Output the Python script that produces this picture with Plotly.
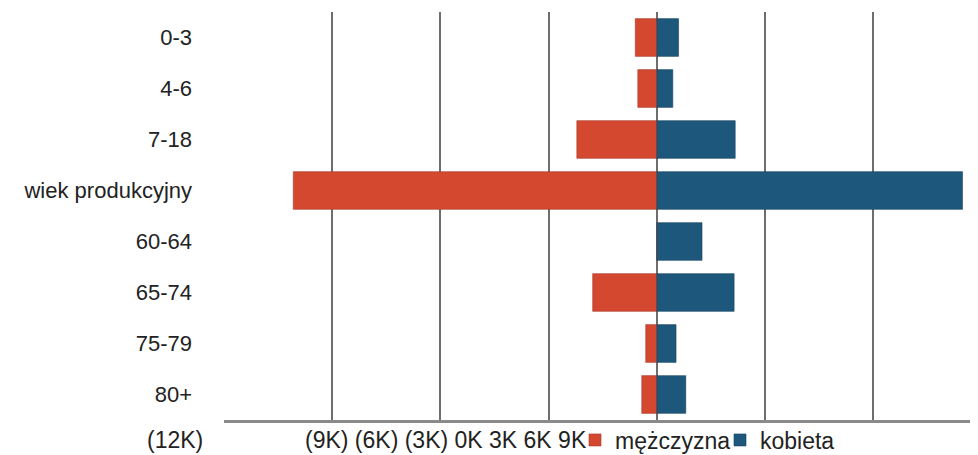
import plotly.graph_objects as go

categories = ["0-3", "4-6", "7-18", "wiek produkcyjny", "60-64", "65-74", "75-79", "80+"]
male = [600, 530, 2220, 10080, 0, 1780, 310, 420]
female = [600, 440, 2170, 8470, 1250, 2140, 530, 800]
tick_values = [-12000, -9000, -6000, -3000, 0, 3000, 6000, 9000]
tick_labels = ["(12K)", "(9K)", "(6K)", "(3K)", "0K", "3K", "6K", "9K"]
series_names = ["mężczyzna", "kobieta"]

RED = "#d3482f"
BLUE = "#1d587c"
FONT = "Liberation Sans, Arial, sans-serif"

fig = go.Figure()
fig.add_trace(go.Bar(
    y=categories, x=[-v for v in male], orientation="h", name=series_names[0],
    marker=dict(color=RED, line=dict(color="#a8392a", width=0.6)),
    customdata=male, hovertemplate="%{y}: %{customdata}<extra></extra>",
))
fig.add_trace(go.Bar(
    y=categories, x=female, orientation="h", name=series_names[1],
    marker=dict(color=BLUE, line=dict(color="#164560", width=0.6)),
    hovertemplate="%{y}: %{x}<extra></extra>",
))

# the page body has an 8px margin, so the figure is 8px smaller and offset
PLOT_W = 754
PLOT_H = 408
fig.update_layout(
    width=970, height=447,
    margin=dict(l=216, r=0, t=4, b=35, autoexpand=False),
    barmode="relative",
    bargap=0.26,
    plot_bgcolor="white", paper_bgcolor="white",
    font=dict(family=FONT, size=22, color="#222222"),
    showlegend=True,
    legend=dict(
        orientation="h", x=(575 - 224) / PLOT_W, xanchor="left",
        y=-20 / PLOT_H, yanchor="middle",
        font=dict(size=23, color="#222222"),
        itemwidth=30, tracegroupgap=0, bgcolor="rgba(0,0,0,0)",
        entrywidth=100, entrywidthmode="pixels",
    ),
)
fig.update_xaxes(
    range=[-12000, 8900], tickvals=tick_values, showticklabels=False,
    showgrid=True, gridcolor="#6e6e6e", gridwidth=2,
    zeroline=True, zerolinecolor="#6e6e6e", zerolinewidth=2,
    showline=True, linecolor="#8a8a8a", linewidth=3, ticks="",
    fixedrange=True,
)
fig.update_yaxes(
    autorange="reversed", showgrid=False, zeroline=False, showline=False,
    ticks="", ticklabelstandoff=31, fixedrange=True,
)

# tick labels row as drawn in the reference
fig.add_annotation(
    xref="paper", yref="paper", x=0, y=0, xshift=-19, yshift=-20,
    xanchor="right", yanchor="middle", showarrow=False,
    text=tick_labels[0], font=dict(size=23, family=FONT, color="#222222"),
)
fig.add_annotation(
    xref="paper", yref="paper", x=(303 - 224) / PLOT_W, y=0, yshift=-20,
    xanchor="left", yanchor="middle", showarrow=False,
    text=" ".join(tick_labels[1:]), font=dict(size=23, family=FONT, color="#222222"),
)

fig.write_html("out.html")
